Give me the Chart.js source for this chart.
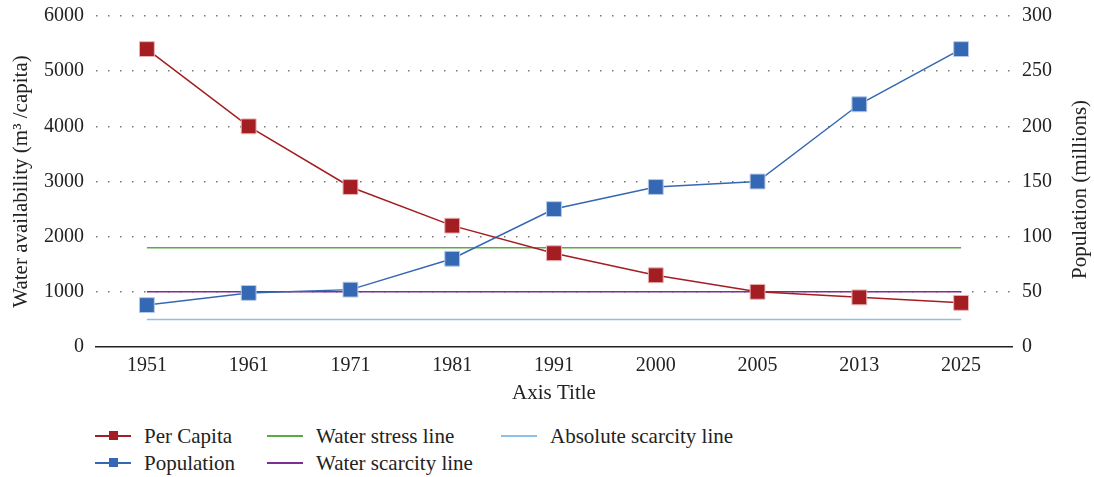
<!DOCTYPE html>
<html lang="en">
<head>
<meta charset="UTF-8">
<title>Water availability and population</title>
<script src="https://cdn.jsdelivr.net/npm/chart.js@4.4.1/dist/chart.umd.min.js"></script>
<style>
  html, body { margin: 0; padding: 0; background: #fff; }
  body { width: 1094px; height: 477px; position: relative; overflow: hidden; font-family: 'Liberation Serif', serif; color: #222; }
  #wrap { position: absolute; left: 0; top: 0; width: 1094px; height: 410px; }
  .item { position: absolute; display: flex; align-items: center; height: 24px; font-size: 21px; white-space: nowrap; }
  .swatch { position: relative; width: 36px; height: 2px; margin-right: 13px; }
  .swatch i { position: absolute; left: 14px; top: -4px; width: 9px; height: 9px; }
</style>
</head>
<body>
<div id="wrap"><canvas id="chart"></canvas></div>
<div id="legend"></div>
<script>
const years = ['1951', '1961', '1971', '1981', '1991', '2000', '2005', '2013', '2025'];
const perCapita = [5400, 4000, 2900, 2200, 1700, 1300, 1000, 900, 800];
const population = [38, 49, 52, 80, 125, 145, 150, 220, 270];
const stressLine = [1800, 1800, 1800, 1800, 1800, 1800, 1800, 1800, 1800];
const scarcityLine = [1000, 1000, 1000, 1000, 1000, 1000, 1000, 1000, 1000];
const absoluteLine = [500, 500, 500, 500, 500, 500, 500, 500, 500];

const FONT = "'Liberation Serif', serif";
const TEXT = '#222';

// right axis title reads bottom-to-top, chart.js would flip it
const rightTitle = {
    id: 'rightTitle',
    afterDraw(chart) {
        const { ctx, chartArea } = chart;
        ctx.save();
        ctx.translate(1080, (chartArea.top + chartArea.bottom) / 2 + 8);
        ctx.rotate(-Math.PI / 2);
        ctx.font = '21px ' + FONT;
        ctx.fillStyle = TEXT;
        ctx.textAlign = 'center';
        ctx.textBaseline = 'middle';
        ctx.fillText('Population (millions)', 0, 0);
        ctx.restore();
    }
};

function lineSet(label, data, color) {
    return {
        label, data, yAxisID: 'y',
        borderColor: color, backgroundColor: color,
        borderWidth: 1.5, pointRadius: 0, pointHoverRadius: 0,
        tension: 0, order: 2
    };
}

const plainTick = v => String(v);
// pin the side axes so the plot area matches the original
const fixSide = w => s => { s.width = w; s.paddingTop = 16; s.paddingBottom = 0; };

const chart = new Chart(document.getElementById('chart'), {
    type: 'line',
    data: {
        labels: years,
        datasets: [
            {
                label: 'Per Capita', data: perCapita, yAxisID: 'y',
                borderColor: '#a31d22', backgroundColor: '#a31d22',
                pointBackgroundColor: '#a31d22', pointBorderColor: '#e9b3b3',
                borderWidth: 1.5, pointStyle: 'rect', pointRadius: 10.5, pointBorderWidth: 1,
                tension: 0, order: 1
            },
            {
                label: 'Population', data: population, yAxisID: 'y2',
                borderColor: '#3568b3', backgroundColor: '#3568b3',
                pointBackgroundColor: '#3568b3', pointBorderColor: '#b5c9e8',
                borderWidth: 1.5, pointStyle: 'rect', pointRadius: 10.5, pointBorderWidth: 1,
                tension: 0, order: 1
            },
            lineSet('Water stress line', stressLine, '#5aab47'),
            lineSet('Water scarcity line', scarcityLine, '#7d2f8f'),
            lineSet('Absolute scarcity line', absoluteLine, '#8cc0e6')
        ]
    },
    options: {
        responsive: true,
        maintainAspectRatio: false,
        animation: false,
        layout: { padding: { top: 16, left: 0, right: 0, bottom: 0 } },
        plugins: { legend: { display: false }, tooltip: { enabled: false } },
        scales: {
            x: {
                offset: true,
                grid: { display: false, drawTicks: false },
                border: { display: true, color: '#222', width: 1.5 },
                ticks: { color: TEXT, font: { family: FONT, size: 20 }, padding: 7, maxRotation: 0 },
                title: { display: true, text: 'Axis Title', color: TEXT, font: { family: FONT, size: 21 }, padding: { top: 0, bottom: 4 } },
                afterFit: s => { s.height = 63; }
            },
            y: {
                position: 'left', min: 0, max: 6000,
                grid: {
                    drawTicks: false,
                    color: c => c.tick.value === 0 ? 'rgba(0,0,0,0)' : '#777',
                    lineWidth: 1.5
                },
                border: { display: false, dash: [1.5, 10.5] },
                ticks: { stepSize: 1000, color: TEXT, font: { family: FONT, size: 20 }, padding: 12, callback: plainTick },
                title: { display: true, text: 'Water availability (m³ /capita)', color: TEXT, font: { family: FONT, size: 21 }, padding: { top: 9, bottom: 0 } },
                afterFit: fixSide(96)
            },
            y2: {
                position: 'right', min: 0, max: 300,
                grid: { drawOnChartArea: false, drawTicks: false },
                border: { display: false },
                ticks: { stepSize: 50, color: TEXT, font: { family: FONT, size: 20 }, padding: 10, callback: plainTick },
                afterFit: fixSide(82)
            }
        }
    },
    plugins: [rightTitle]
});

// legend laid out in columns like the original
const legendSpots = [[95, 436], [95, 463], [267, 436], [267, 463], [501, 436]];
const legend = document.getElementById('legend');
chart.data.datasets.forEach((ds, i) => {
    const item = document.createElement('div');
    item.className = 'item';
    item.style.left = legendSpots[i][0] + 'px';
    item.style.top = (legendSpots[i][1] - 12) + 'px';
    const sw = document.createElement('span');
    sw.className = 'swatch';
    sw.style.background = ds.borderColor;
    if (ds.pointRadius > 0) {
        const m = document.createElement('i');
        m.style.background = ds.pointBackgroundColor;
        sw.appendChild(m);
    }
    item.appendChild(sw);
    item.appendChild(document.createTextNode(ds.label));
    legend.appendChild(item);
});
</script>
</body>
</html>
